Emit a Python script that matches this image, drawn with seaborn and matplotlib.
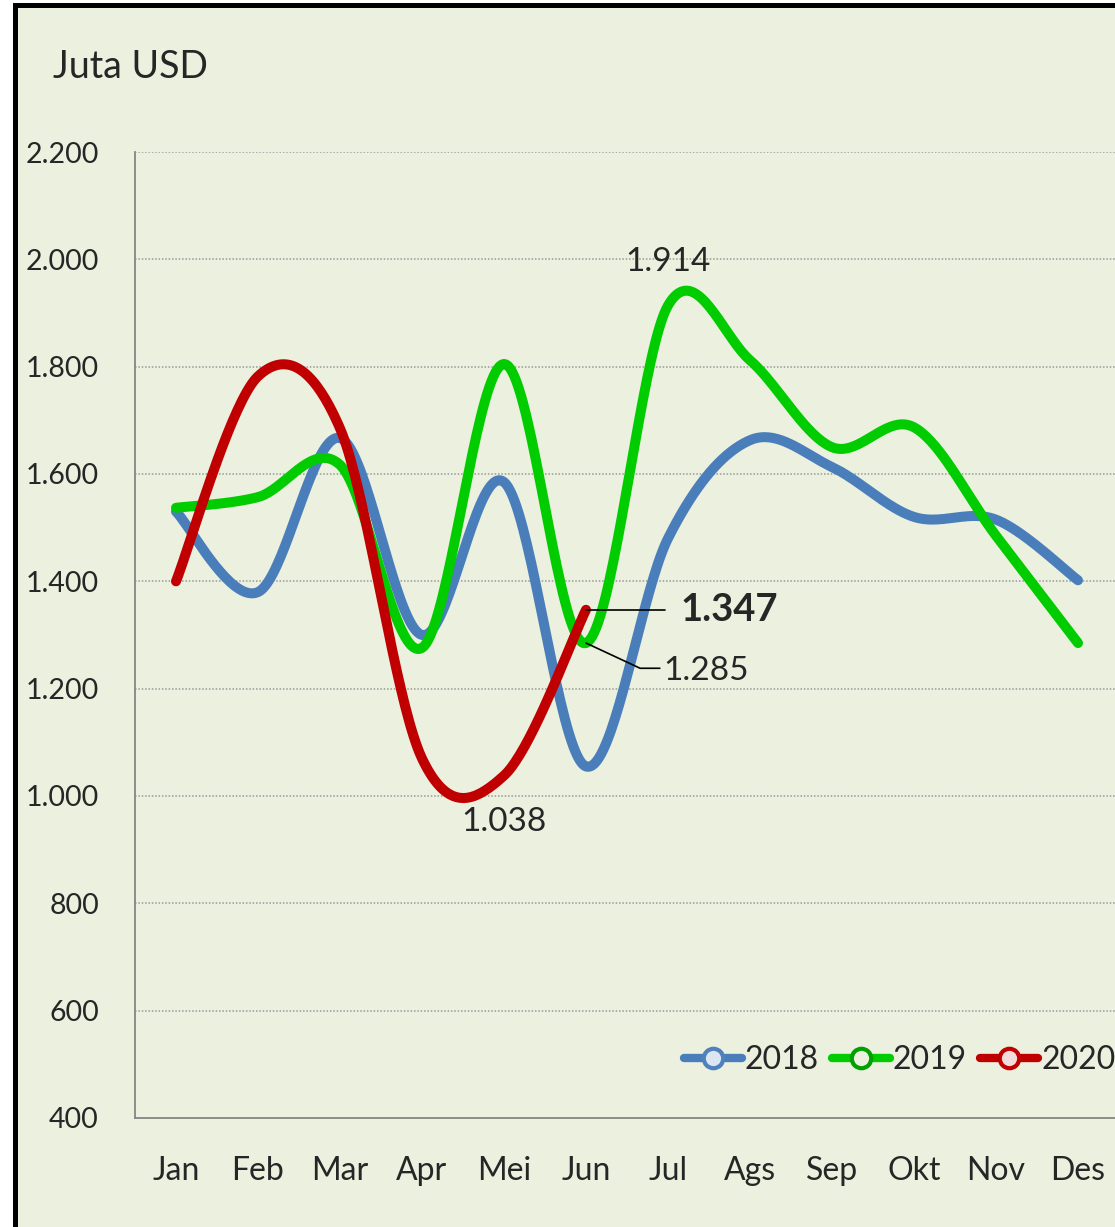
import numpy as np
import pandas as pd
import matplotlib
matplotlib.use("Agg")
import matplotlib.pyplot as plt
import seaborn as sns
from matplotlib.lines import Line2D
from matplotlib.patches import Rectangle
from matplotlib.ticker import FuncFormatter, MultipleLocator, FixedLocator

# Monthly values (Juta USD)
months = ["Jan", "Feb", "Mar", "Apr", "Mei", "Jun", "Jul", "Ags", "Sep", "Okt", "Nov", "Des"]
val_2018 = [1530, 1380, 1667, 1300, 1585, 1055, 1480, 1663, 1613, 1520, 1515, 1402]
val_2019 = [1537, 1557, 1617, 1276, 1805, 1285, 1914, 1812, 1650, 1687, 1485, 1285]
val_2020 = [1400, 1782, 1685, 1070, 1038, 1347]

colors = {"2018": "#4A7EBB", "2019": "#00CC00", "2020": "#C00000"}
marker_face = {"2018": "#DCE6F2", "2019": "#EBF1DE", "2020": "#F2DCDB"}
marker_edge = {"2018": "#4F81BD", "2019": "#00A000", "2020": "#C00000"}


def smooth(y, n=40):
    # Excel-style smoothed line (Bezier through points, Catmull-Rom tangents)
    x = np.arange(len(y), dtype=float)
    y = np.asarray(y, dtype=float)
    px, py = [], []
    for i in range(len(y) - 1):
        i0, i3 = max(i - 1, 0), min(i + 2, len(y) - 1)
        c1x = x[i] + (x[i + 1] - x[i0]) / 6
        c1y = y[i] + (y[i + 1] - y[i0]) / 6
        c2x = x[i + 1] - (x[i3] - x[i]) / 6
        c2y = y[i + 1] - (y[i3] - y[i]) / 6
        t = np.linspace(0, 1, n)
        bx = (1 - t) ** 3 * x[i] + 3 * (1 - t) ** 2 * t * c1x + 3 * (1 - t) * t ** 2 * c2x + t ** 3 * x[i + 1]
        by = (1 - t) ** 3 * y[i] + 3 * (1 - t) ** 2 * t * c1y + 3 * (1 - t) * t ** 2 * c2y + t ** 3 * y[i + 1]
        px.extend(bx)
        py.extend(by)
    return np.array(px), np.array(py)


sns.set_style("white")
plt.rcParams["font.family"] = ["Lato", "DejaVu Sans"]

W, H = 1115, 1227
fig = plt.figure(figsize=(W / 100, H / 100), dpi=100)
fig.patch.set_facecolor("white")

# chart area with black border (cropped on right and bottom)
fig.add_artist(Rectangle((15 / W, -0.05), 1.2, 1 - 5 / H + 0.05, transform=fig.transFigure,
                         facecolor="#EBF0DF", edgecolor="black", linewidth=3.6, zorder=0))

ax = fig.add_axes([135 / W, 109 / H, (1119 - 135) / W, (1118 - 152) / H])
ax.set_facecolor("none")

for name, vals in [("2018", val_2018), ("2019", val_2019), ("2020", val_2020)]:
    sx, sy = smooth(vals)
    df = pd.DataFrame({"x": sx, "y": sy})
    sns.lineplot(data=df, x="x", y="y", ax=ax, color=colors[name], linewidth=7.2,
                 sort=False, estimator=None, solid_capstyle="round", zorder=3)

ax.set_xlim(-0.5, 11.5)
ax.set_ylim(400, 2200)
ax.set_xlabel("")
ax.set_ylabel("")

ax.yaxis.set_major_locator(MultipleLocator(200))
ax.yaxis.set_major_formatter(FuncFormatter(lambda v, p: f"{int(v):,}".replace(",", ".")))
ax.grid(axis="y", color="#999999", linestyle=(0, (1, 1.2)), linewidth=1.1)
ax.grid(axis="x", visible=False)

ax.xaxis.set_major_locator(FixedLocator(np.arange(-0.5, 12, 1)))
ax.xaxis.set_major_formatter(FuncFormatter(lambda v, p: ""))
ax.xaxis.set_minor_locator(FixedLocator(np.arange(12)))
ax.set_xticklabels(months, minor=True)
ax.tick_params(axis="x", which="major", direction="out", length=7, width=1.3, color="#868686")
ax.tick_params(axis="x", which="minor", length=0, pad=27, labelsize=23)
ax.tick_params(axis="y", direction="out", length=6, width=1.3, color="#868686", pad=20, labelsize=20.5)

for s in ["top", "right"]:
    ax.spines[s].set_visible(False)
for s in ["left", "bottom"]:
    ax.spines[s].set_color("#868686")
    ax.spines[s].set_linewidth(1.3)

fig.text(53 / W, 1 - 67 / H, "Juta USD", fontsize=27, va="center", ha="left")

# data labels
ax.text(6, 1995, "1.914", fontsize=24, ha="center", va="center")
ax.text(4, 951, "1.038", fontsize=24, ha="center", va="center")
ax.plot([5, 5.96], [1347, 1347], color="black", linewidth=1.2, zorder=4)
ax.text(6.15, 1346, "1.347", fontsize=27.5, fontweight="bold", ha="left", va="center")
ax.plot([5, 5.66, 5.90], [1285, 1238, 1238], color="black", linewidth=1.2, zorder=4)
ax.text(5.94, 1233, "1.285", fontsize=24, ha="left", va="center")

handles = [Line2D([0], [0], color=colors[k], linewidth=6, marker="o", markersize=14,
                  markerfacecolor=marker_face[k], markeredgecolor=marker_edge[k],
                  markeredgewidth=3) for k in ["2018", "2019", "2020"]]
fig.legend(handles, ["2018", "2019", "2020"], loc="center left",
           bbox_to_anchor=(684 / W, 1 - 1060 / H), bbox_transform=fig.transFigure,
           ncol=3, frameon=False, fontsize=23, handlelength=1.8, handletextpad=0.1,
           columnspacing=0.42, borderpad=0, borderaxespad=0)

fig.savefig("out.png", dpi=100)
